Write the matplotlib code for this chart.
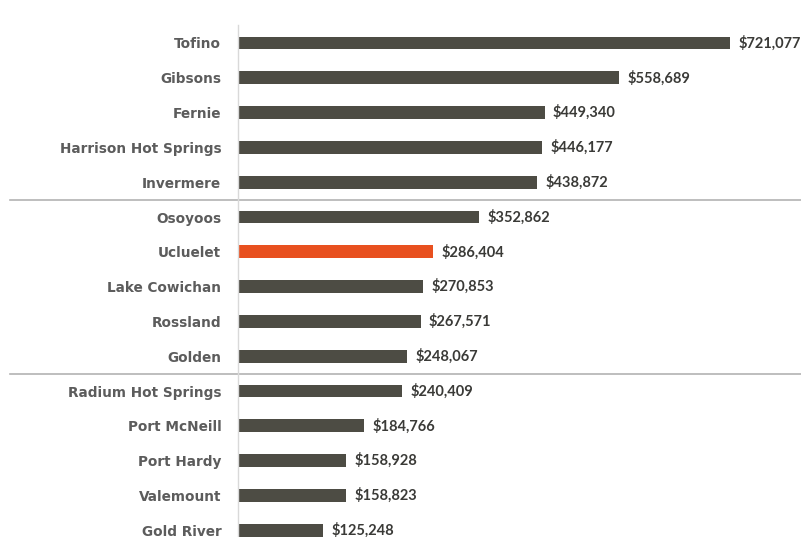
import matplotlib.pyplot as plt

# Data
towns = ['Tofino', 'Gibsons', 'Fernie', 'Harrison Hot Springs', 'Invermere',
         'Osoyoos', 'Ucluelet', 'Lake Cowichan', 'Rossland', 'Golden',
         'Radium Hot Springs', 'Port McNeill', 'Port Hardy', 'Valemount', 'Gold River']
values = [721077, 558689, 449340, 446177, 438872,
          352862, 286404, 270853, 267571, 248067,
          240409, 184766, 158928, 158823, 125248]
highlight = 'Ucluelet'

bar_color = '#4d4c44'
hl_color = '#e8501f'
colors = [hl_color if t == highlight else bar_color for t in towns]

plt.rcParams['font.family'] = ['Lato', 'DejaVu Sans']

fig = plt.figure(figsize=(8.01, 5.37), dpi=100)
ax = fig.add_axes([238 / 801, 0, 563 / 801, 1 - 25 / 537])

pos = list(range(len(towns)))
ax.barh(pos, values, height=0.37, color=colors)

# scale: Tofino bar ends at x~730 px
px_per_dollar = (730 - 238) / 721077
ax.set_xlim(0, 563 / px_per_dollar)
ax.set_ylim((537 - 43) / 34.8, -(43 - 25) / 34.8)

for p, v in zip(pos, values):
    ax.annotate(f'${v:,}', (v, p), xytext=(6, 0), textcoords='offset points',
                va='center', ha='left', fontsize=10.5, fontweight='bold', color='#3a3a37')

ax.set_yticks(pos)
ax.set_yticklabels(towns, fontsize=9.8, fontweight='bold', color='#5c5c5c',
                   family='DejaVu Sans')
ax.tick_params(axis='y', length=0, pad=12)
ax.set_xticks([])

for s in ['top', 'right', 'bottom']:
    ax.spines[s].set_visible(False)
ax.spines['left'].set_color('#d9d9d9')
ax.spines['left'].set_linewidth(1)

# group separators
for y in [4.5, 9.5]:
    ax.axhline(y, xmin=-228 / 563, xmax=1, color='#b3b3b3', linewidth=1.2, clip_on=False)

fig.savefig('out.png', dpi=100)
